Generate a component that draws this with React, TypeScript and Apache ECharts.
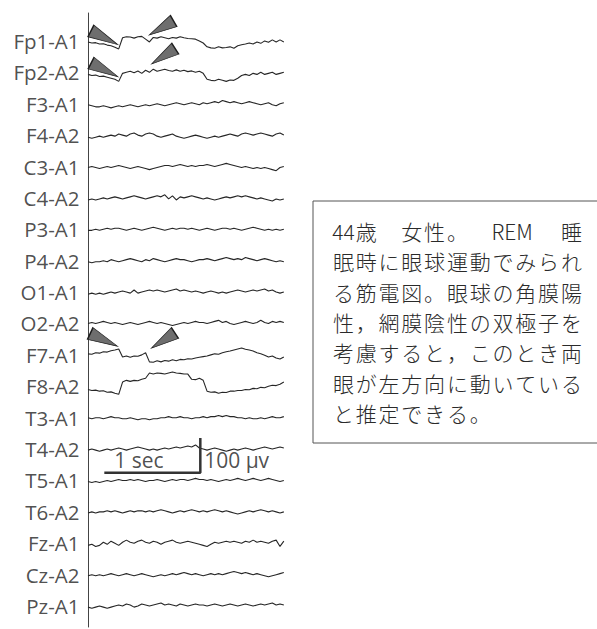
import React, { useEffect, useRef } from "react";
import * as echarts from "echarts";

// ---- data ----
const channels = [
  "Fp1-A1", "Fp2-A2", "F3-A1", "F4-A2", "C3-A1", "C4-A2", "P3-A1", "P4-A2", "O1-A1", "O2-A2",
  "F7-A1", "F8-A2", "T3-A1", "T4-A2", "T5-A1", "T6-A2", "Fz-A1", "Cz-A2", "Pz-A1",
];
const sampleInterval = 0.04; // seconds between samples
const channelSpacing = 90; // µV between montage baselines (negative up, EEG convention)

// amplitudes in µV (positive = downward deflection)
const fp1 = [3,6,5,9,8,12,14,18,23,-9, -12,-11,-8,-12,-13,-5,3,-10,-8,-12, -9,-6,-10,-8,-12,-9,-7,-6,-5,0, 6,17,20,21,17,20,19,17,21,14, 11,9,6,9,3,7,0,4,-3,3, -3,3];
const fp2 = [6,9,8,12,11,14,17,20,26,3, 0,-3,1,-4,3,-6,0,-9,-3,-6, -9,-5,-3,-7,-3,-6,-2,-4,0,-3, 3,20,23,24,20,23,26,22,23,17, 9,6,9,3,6,0,6,3,0,6, 3,0];
const f3 = [3,6,9,9,6,9,12,9,6,9, 6,3,6,9,6,3,6,3,0,3, 6,3,0,-3,0,3,0,-3,0,3, -3,0,-3,-6,-3,-9,-6,-3,-6,-3, 0,-3,-6,-3,0,3,0,-3,3,6, 0,-3];
const f4 = [6,9,6,3,6,3,0,3,-3,0, 3,-3,-6,0,3,-3,-6,-3,3,6, 3,0,-3,3,6,9,6,3,0,3, 6,9,6,3,6,3,0,-3,0,3, -3,-6,-3,0,-3,-6,-3,0,3,-3, -6,0];
const c3 = [3,0,3,6,3,0,3,0,-3,0, 3,6,3,0,3,6,9,6,3,0, -3,-3,0,-3,-6,-3,0,-3,0,-3, -3,-6,-3,0,-3,-6,-9,-6,-3,0, 3,0,3,6,3,6,3,6,9,12, 3,0];
const c4 = [6,3,6,3,0,3,0,-3,0,3, 0,-3,-6,-3,0,3,0,-3,-6,-3, -9,3,-6,6,-3,0,-3,-6,-3,0, 3,0,3,6,3,0,-3,0,-3,-6, -3,-6,-3,0,3,0,3,6,9,3, 6,3];
const p3 = [3,3,0,3,0,-3,0,-3,-3,0, 3,0,-3,0,3,0,-3,-6,-3,0, 3,0,-3,0,-3,-3,0,-3,0,3, 0,-3,0,3,0,-3,-3,0,-3,0, 3,0,-3,-6,-3,0,3,0,3,0, 3,0];
const p4 = [3,6,3,3,0,3,-3,0,3,0, -3,-6,-3,0,3,-3,0,-6,-3,0, 3,0,-3,-6,-3,-3,0,3,0,-3, -3,-6,-3,0,-3,-6,-9,-6,-3,-6, -3,-9,-6,-3,0,-3,-6,-3,0,3, 0,3];
const o1 = [6,3,6,3,6,3,0,3,0,-3, 0,3,-6,3,0,-3,-6,-3,-6,-3, 0,-3,-6,-9,-3,-6,-3,0,-3,0, 3,0,-3,0,3,0,3,0,-3,-6, -3,0,-3,-6,-3,-6,-9,-3,-6,0, 3,0];
const o2 = [0,-3,0,-3,-6,-3,0,-3,0,3, 0,-3,0,3,0,-3,-6,-3,0,-3, 0,3,6,3,0,-3,0,-3,-6,-3, -3,0,-3,-6,-9,-3,-6,0,3,0, -3,-6,-3,0,-3,-9,-3,0,-6,-3, -6,-3];
const f7 = [-3,-2,-6,-5,-9,-8,-12,-14,-17,6, 3,7,3,4,0,-6,20,21,17,20, 16,18,14,17,13,14,11,12,9,7, 5,3,0,-3,-2,-6,-9,-11,-14,-17, -20,-16,-14,-11,-6,-3,1,6,3,9, 12,6];
const f8 = [9,12,11,14,13,17,16,20,23,-12, -17,-14,-17,-16,-20,-23,-38,-35,-38,-37, -35,-38,-41,-38,-37,-35,-35,-20,-19,-23, -17,14,17,16,20,17,18,14,14,12, 12,9,10,6,7,3,4,0,-3,-2, -6,-12];
const t3 = [0,3,0,0,3,0,-3,0,0,3, 3,0,3,6,3,3,6,3,3,0, 0,-3,0,0,-3,0,0,3,0,0, -3,0,-3,-3,-6,-3,-6,-3,-3,0, 0,3,0,3,3,0,3,0,-3,0, 0,-3];
const t4 = [3,0,3,6,3,0,3,0,-3,0, 3,0,-3,-6,-3,0,3,0,3,0, -3,0,-3,-6,-3,-6,-9,-6,-12,-3, 0,3,0,-3,0,3,6,3,0,3, 0,-3,0,3,0,-3,-6,-3,0,-3, -6,-3];
const t5 = [3,6,3,6,3,0,3,0,-3,0, 0,-3,0,-3,0,3,0,0,-3,0, 3,0,-3,0,-3,-3,0,-3,-6,-3, -3,0,-3,0,3,0,-3,0,-3,-6, -3,0,-3,-6,-3,0,-3,-6,-3,0, 3,0];
const t6 = [3,0,3,0,0,-3,0,-3,0,3, 0,-3,0,-3,-3,0,-3,0,-3,-6, -3,0,3,0,-3,0,-3,-6,-3,0, -3,0,-3,-6,-3,0,-3,0,3,6, 3,0,-3,0,-3,-6,-3,0,-3,0, 3,0];
const fz = [6,3,9,6,-3,3,-6,0,6,-3, -9,-3,0,-6,-9,-3,0,-6,-3,3, -3,-6,-9,-3,0,-3,-6,-3,0,3, 6,9,3,-3,0,-3,-6,-3,-6,-3, 0,-6,-3,-9,-3,-6,-3,0,-6,-9, 9,-6];
const cz = [3,0,3,0,3,0,-3,0,3,0, -3,0,3,0,-3,0,3,6,3,0, 3,0,-3,0,-3,-6,-3,0,-3,0, 3,0,-3,0,-3,0,-3,-6,-9,-6, -3,-6,-3,0,-3,0,3,6,3,0, -3,-6];
const pz = [3,6,3,0,3,6,3,0,-3,0, -6,-3,3,0,-6,-3,0,-3,-6,-9, -3,-6,-3,0,-6,-3,0,-3,-6,-3, -3,0,-3,-6,-3,0,-3,-6,-3,0, -3,-6,-3,0,-3,-6,-3,-6,-9,-3, -6,-3];
const traces = [fp1, fp2, f3, f4, c3, c4, p3, p4, o1, o2, f7, f8, t3, t4, t5, t6, fz, cz, pz];

// arrowheads marking the eye-movement deflections: channel, time (s), offset (µV), direction (deg)
const arrowChannel = [0, 0, 1, 1, 10, 10];
const arrowTime = [0.17, 0.765, 0.172, 0.786, 0.165, 0.783];
const arrowOffset = [-9, -37, -7, -46, -43, -41];
const arrowDirection = [-27, -150, -27, -147, -25, -147];

// calibration bar
const calTimeSec = 1;
const calAmpUv = 100;
const calCornerTime = 1.17;
const calCornerValue = 1238;
const calLabels = ["1 sec", "100 μv"];

// annotation text
const noteLine1 = ["44", "歳", "　", "女", "性", "。", "REM", "睡"];
const noteLines = [
  "眠時に眼球運動でみられ",
  "る筋電図。眼球の角膜陽",
  "性，網膜陰性の双極子を",
  "考慮すると，このとき両",
  "眼が左方向に動いている",
  "と推定できる。",
];

// ---- layout ----
const line1Cells = [0, 1, 2, 3, 4, 5, 7.4, 10];
const cellW = 22.8;
const textLeft = 332;
const firstLineY = 231;
const linePitch = 30.3;

function buildOption() {
  const lineSeries = traces.map((vals, k) => ({
    type: "line",
    name: channels[k],
    data: vals.map((v, i) => [i * sampleInterval, k * channelSpacing + v]),
    showSymbol: false,
    symbol: "none",
    silent: true,
    lineStyle: { color: "#262626", width: 1.1 },
    z: 2,
  }));

  const labelSeries = {
    type: "scatter",
    data: channels.map((n, k) => ({ value: [0, k * channelSpacing], name: n })),
    symbolSize: 1,
    itemStyle: { color: "rgba(0,0,0,0)" },
    silent: true,
    label: {
      show: true,
      position: "left",
      distance: 8,
      formatter: "{b}",
      color: "#222",
      fontSize: 20.5,
      fontFamily: "Open Sans",
    },
  };

  const arrowSeries = {
    type: "scatter",
    silent: true,
    z: 5,
    symbol: "path://M0,0L30,6L0,12Z",
    data: arrowChannel.map((ch, j) => ({
      value: [arrowTime[j], ch * channelSpacing + arrowOffset[j]],
      symbolRotate: arrowDirection[j],
      symbolSize: j % 2 === 0 ? [30, 13] : [28, 13],
    })),
    itemStyle: { color: "#6e6e6e", borderColor: "#1e1e1e", borderWidth: 1, opacity: 1 },
  };

  const calSeries = {
    type: "line",
    silent: true,
    symbol: "none",
    z: 3,
    data: [
      [calCornerTime - calTimeSec, calCornerValue],
      [calCornerTime, calCornerValue],
      [calCornerTime, calCornerValue - calAmpUv],
    ],
    lineStyle: { color: "#333", width: 2.5 },
  };

  const calLabelSeries = {
    type: "scatter",
    silent: true,
    symbolSize: 1,
    itemStyle: { color: "rgba(0,0,0,0)" },
    data: [
      {
        value: [calCornerTime - calTimeSec / 2 - 0.14, calCornerValue - 37],
        name: calLabels[0],
        label: { align: "center" },
      },
      {
        value: [calCornerTime + 0.04, calCornerValue - 37],
        name: calLabels[1],
        label: { align: "left" },
      },
    ],
    label: {
      show: true,
      position: "inside",
      formatter: "{b}",
      color: "#222",
      fontSize: 21,
      fontFamily: "Open Sans",
      verticalAlign: "middle",
    },
  };

  const textStyleBase = {
    fontSize: 21,
    fontFamily: "'Noto Sans CJK JP'",
    fontWeight: 300,
    fill: "#2a2a2a",
    align: "center",
    verticalAlign: "middle",
    textAlign: "center",
    textVerticalAlign: "middle",
  };
  const texts: any[] = [];
  noteLine1.forEach((s, j) => {
    texts.push({
      type: "text",
      x: textLeft + (line1Cells[j] + 0.5) * cellW,
      y: firstLineY,
      style: { ...textStyleBase, text: s },
    });
  });
  noteLines.forEach((line, li) => {
    Array.from(line).forEach((ch, j) => {
      texts.push({
        type: "text",
        x: textLeft + (j + 0.5) * cellW,
        y: firstLineY + (li + 1) * linePitch,
        style: { ...textStyleBase, text: ch },
      });
    });
  });

  return {
    animation: false,
    backgroundColor: "#ffffff",
    grid: { left: 88, top: 13, width: 198, height: 614 },
    xAxis: { type: "value", min: 0, max: 2.0625, show: false },
    yAxis: {
      type: "value",
      inverse: true,
      min: -80,
      max: 1680,
      axisLine: { show: true, lineStyle: { color: "#444", width: 1 } },
      axisTick: { show: false },
      axisLabel: { show: false },
      splitLine: { show: false },
    },
    series: [...lineSeries, labelSeries, arrowSeries, calSeries, calLabelSeries],
    graphic: [
      {
        type: "rect",
        shape: { x: 313, y: 201, width: 300, height: 242 },
        style: { fill: "none", stroke: "#555", lineWidth: 1 },
        silent: true,
      },
      ...texts,
    ],
  };
}

export default function App() {
  const ref = useRef<HTMLDivElement>(null);
  useEffect(() => {
    if (!ref.current) return;
    const chart = echarts.init(ref.current, undefined, { renderer: "svg" });
    chart.setOption(buildOption() as any);
    return () => chart.dispose();
  }, []);
  return (
    <div
      ref={ref}
      style={{ position: "fixed", left: 0, top: 0, width: 597, height: 629, background: "#fff" }}
    />
  );
}
